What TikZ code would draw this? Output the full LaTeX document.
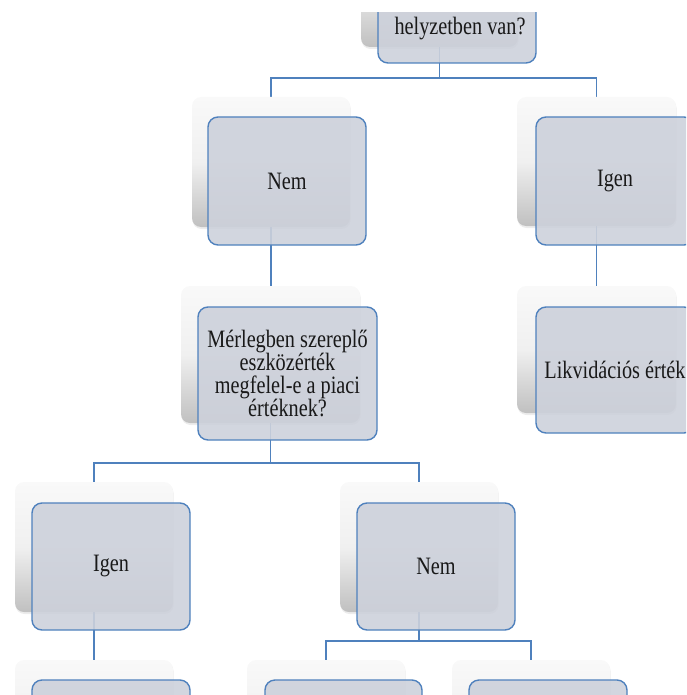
\documentclass[tikz,border=0pt]{standalone}
\usepackage{fontspec}
\setmainfont{Liberation Serif}[FakeStretch=0.81]
\usetikzlibrary{shadows,backgrounds}
\definecolor{conn}{RGB}{79,129,189}
\definecolor{frontfill}{RGB}{205,209,219}
\definecolor{shtop}{RGB}{249,249,249}
\definecolor{shmid}{RGB}{240,240,240}
\definecolor{shbot}{RGB}{192,192,192}
\definecolor{txt}{RGB}{25,25,25}
\tikzset{
  back/.style={rectangle, rounded corners=9pt, draw=none, top color=shtop, bottom color=shbot, middle color=shmid, inner sep=0pt,
    drop shadow={opacity=0.15, shadow xshift=0.5pt, shadow yshift=-2pt}},
  front/.style={rectangle, rounded corners=10pt, draw=conn, line width=1.4pt, fill=frontfill, fill opacity=0.9, text opacity=1,
    inner sep=2pt, align=center, font=\fontsize{25}{23.3}\selectfont, text=txt},
  lbl/.style={font=\fontsize{25}{23.3}\selectfont, text=txt, inner sep=0pt},
  link/.style={draw=conn, line width=1.5pt}
}
\begin{document}
\begin{tikzpicture}[x=1pt,y=-1pt]
\useasboundingbox (0,0) rectangle (686,695);
\clip (0,13) rectangle (686,695);
% shadow (back) boxes
\node[back, minimum width=157pt, minimum height=130pt] (s0) at (439.5,-18) {};
\node[back, minimum width=158pt, minimum height=130pt] (s1) at (271,162) {};
\node[back, minimum width=159pt, minimum height=129pt] (s2) at (596.5,161.5) {};
\node[back, minimum width=179pt, minimum height=137pt] (s3) at (270.5,354.5) {};
\node[back, minimum width=159pt, minimum height=127pt] (s4) at (596.5,349.5) {};
\node[back, minimum width=158pt, minimum height=130pt] (s5) at (94,547) {};
\node[back, minimum width=158pt, minimum height=130pt] (s6) at (419,547) {};
\node[back, minimum width=158pt, minimum height=130pt] (s7) at (94,725) {};
\node[back, minimum width=158pt, minimum height=130pt] (s8) at (326,725) {};
\node[back, minimum width=158pt, minimum height=130pt] (s9) at (531,725) {};
% front boxes
\node[front, minimum width=158pt, minimum height=128pt] (f0) at (457,-1) {};
\node[lbl, anchor=base] (t0) at (460,35) {helyzetben van?};
\node[front, minimum width=158pt, minimum height=128pt] (f1) at (287,181) {Nem};
\node[front, minimum width=158pt, minimum height=128pt] (f2) at (615,181) {Igen};
\node[front, minimum width=179pt, minimum height=133pt] (f3) at (287.5,373.5) {Mérlegben szereplő\\eszközérték\\megfelel-e a piaci\\értéknek?};
\node[front, minimum width=158pt, minimum height=126pt] (f4) at (615,370) {Likvidációs érték};
\node[front, minimum width=158pt, minimum height=127pt] (f5) at (111,566.5) {Igen};
\node[front, minimum width=158pt, minimum height=127pt] (f6) at (436,566.5) {Nem};
\node[front, minimum width=158pt, minimum height=128pt] (f7) at (111,744) {};
\node[front, minimum width=157pt, minimum height=128pt] (f8) at (343.5,744) {};
\node[front, minimum width=158pt, minimum height=128pt] (f9) at (548,744) {};
% connectors
\coordinate (j0) at (439.5,78);
\coordinate (j3) at (270.5,463);
\coordinate (j6) at (419,641);
\begin{scope}[on background layer]
\draw[link] (s0.south) -- (j0) -| (s1.north);
\draw[link] (j0) -| (s2.north);
\draw[link] (s1.south) -- (s1.south |- s3.north);
\draw[link] (s2.south) -- (s4.north);
\draw[link] (s3.south) -- (j3) -| (s5.north);
\draw[link] (j3) -| (s6.north);
\draw[link] (s5.south) -- (s7.north);
\draw[link] (s6.south) -- (j6) -| (s8.north);
\draw[link] (j6) -| (s9.north);
\end{scope}
\end{tikzpicture}
\end{document}
